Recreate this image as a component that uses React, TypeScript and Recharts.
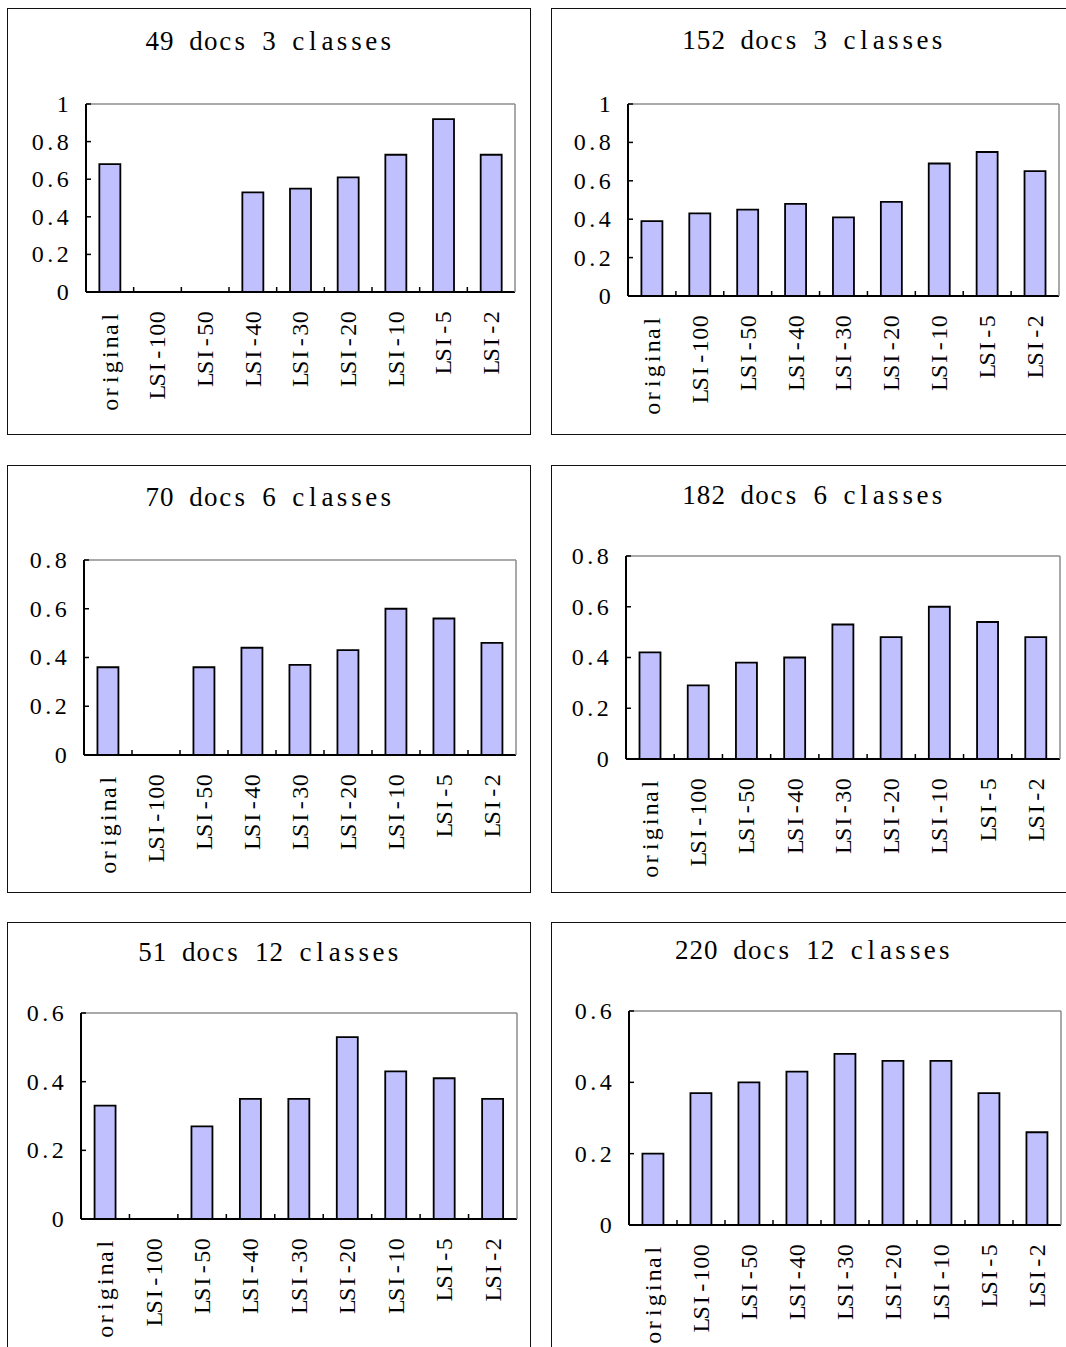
import { BarChart, Bar, XAxis, YAxis } from 'recharts';

const categories = ['original', 'LSI-100', 'LSI-50', 'LSI-40', 'LSI-30', 'LSI-20', 'LSI-10', 'LSI-5', 'LSI-2'];

const docs49Classes3 = [0.68, 0, 0, 0.53, 0.55, 0.61, 0.73, 0.92, 0.73];
const docs152Classes3 = [0.39, 0.43, 0.45, 0.48, 0.41, 0.49, 0.69, 0.75, 0.65];
const docs70Classes6 = [0.36, 0, 0.36, 0.44, 0.37, 0.43, 0.6, 0.56, 0.46];
const docs182Classes6 = [0.42, 0.29, 0.38, 0.4, 0.53, 0.48, 0.6, 0.54, 0.48];
const docs51Classes12 = [0.33, 0, 0.27, 0.35, 0.35, 0.53, 0.43, 0.41, 0.35];
const docs220Classes12 = [0.2, 0.37, 0.4, 0.43, 0.48, 0.46, 0.46, 0.37, 0.26];

const ticksTo1 = [0, 0.2, 0.4, 0.6, 0.8, 1];
const ticksTo08 = [0, 0.2, 0.4, 0.6, 0.8];
const ticksTo06 = [0, 0.2, 0.4, 0.6];

// serif glyphs on a fixed half-width grid, like the SimSun look of the original
const FONT = "'Liberation Serif', 'DejaVu Serif', serif";
const LABEL_SIZE = 24;
const LABEL_ADV = 12.5;
const TITLE_SIZE = 27;
const TITLE_ADV = 14.6;
const BOX_W = 524;
const AXIS = 1;

const panels = [
  { title: '49 docs 3 classes', values: docs49Classes3, ticks: ticksTo1, box: { left: 7, top: 8, h: 427 }, titleY: 41, plot: { left: 86, top: 104, right: 515, bottom: 292 } },
  { title: '152 docs 3 classes', values: docs152Classes3, ticks: ticksTo1, box: { left: 551, top: 8, h: 427 }, titleY: 40, plot: { left: 628, top: 104, right: 1059, bottom: 296 } },
  { title: '70 docs 6 classes', values: docs70Classes6, ticks: ticksTo08, box: { left: 7, top: 465, h: 428 }, titleY: 497, plot: { left: 84, top: 560, right: 516, bottom: 755 } },
  { title: '182 docs 6 classes', values: docs182Classes6, ticks: ticksTo08, box: { left: 551, top: 465, h: 428 }, titleY: 495, plot: { left: 626, top: 556, right: 1060, bottom: 759 } },
  { title: '51 docs 12 classes', values: docs51Classes12, ticks: ticksTo06, box: { left: 7, top: 922, h: 440 }, titleY: 952, plot: { left: 81, top: 1013, right: 517, bottom: 1219 } },
  { title: '220 docs 12 classes', values: docs220Classes12, ticks: ticksTo06, box: { left: 551, top: 922, h: 440 }, titleY: 950, plot: { left: 629, top: 1011, right: 1061, bottom: 1225 } },
];

// x centres for each character so that the string ends at endX
function slotCentres(s: string, endX: number, adv: number) {
  const n = s.length;
  return Array.from(s, (_, i) => (endX - (n - i - 0.5) * adv).toFixed(2)).join(' ');
}

function CategoryTick(props: any) {
  const { x, y, payload, width, visibleTicksCount, index } = props;
  const band = width / visibleTicksCount;
  const bx = x - band / 2;
  const ly = y + 19;
  const s = String(payload.value);
  return (
    <g>
      {index > 0 && <line x1={bx} x2={bx} y1={y} y2={y - 5} stroke="#000" strokeWidth={1.5} />}
      <text
        x={slotCentres(s, x, LABEL_ADV)}
        y={ly}
        dy="0.33em"
        transform={`rotate(-90, ${x}, ${ly})`}
        textAnchor="middle"
        fill="#000"
        fontSize={LABEL_SIZE}
        fontFamily={FONT}
      >
        {s}
      </text>
    </g>
  );
}

function ValueTick(props: any) {
  const { x, y, payload } = props;
  const s = String(payload.value);
  return (
    <text
      x={slotCentres(s, x, LABEL_ADV)}
      y={y}
      dy="0.33em"
      textAnchor="middle"
      fill="#000"
      fontSize={LABEL_SIZE}
      fontFamily={FONT}
    >
      {s}
    </text>
  );
}

function Title({ text, left, centerY }: { text: string; left: number; centerY: number }) {
  return (
    <div
      style={{
        position: 'absolute',
        left,
        top: centerY - 17,
        width: BOX_W,
        height: 34,
        display: 'flex',
        justifyContent: 'center',
        alignItems: 'center',
        fontFamily: FONT,
        fontSize: TITLE_SIZE,
        color: '#000',
        lineHeight: '34px',
      }}
    >
      {Array.from(text).map((c, i) => (
        <span key={i} style={{ display: 'inline-block', width: TITLE_ADV, textAlign: 'center' }}>
          {c === ' ' ? '\u00a0' : c}
        </span>
      ))}
    </div>
  );
}

function Panel({ p }: { p: (typeof panels)[number] }) {
  const data = categories.map((name, i) => ({ name, value: p.values[i] }));
  const chartH = p.box.h + 20;
  const margin = {
    left: p.plot.left - p.box.left - AXIS,
    top: p.plot.top - p.box.top - AXIS,
    right: p.box.left + BOX_W - p.plot.right - AXIS,
    bottom: chartH - (p.plot.bottom - p.box.top) - AXIS,
  };
  const max = p.ticks[p.ticks.length - 1];
  return (
    <>
      <div
        style={{
          position: 'absolute',
          left: p.box.left,
          top: p.box.top,
          width: BOX_W,
          height: p.box.h,
          border: '1px solid #111',
          boxSizing: 'border-box',
        }}
      />
      <Title text={p.title} left={p.box.left} centerY={p.titleY} />
      <div style={{ position: 'absolute', left: p.box.left, top: p.box.top }}>
        <BarChart width={BOX_W} height={chartH} data={data} margin={margin} barCategoryGap="28%">
          <XAxis
            dataKey="name"
            interval={0}
            height={AXIS}
            tickLine={false}
            tickSize={0}
            tickMargin={0}
            axisLine={{ stroke: '#000', strokeWidth: 2 }}
            tick={<CategoryTick />}
          />
          <XAxis
            xAxisId="top"
            orientation="top"
            dataKey="name"
            height={AXIS}
            tick={false}
            tickLine={false}
            axisLine={{ stroke: '#8c8c8c', strokeWidth: 1.5 }}
          />
          <YAxis
            type="number"
            domain={[0, max]}
            ticks={p.ticks}
            width={AXIS}
            tickSize={-5}
            tickMargin={22}
            tickLine={{ stroke: '#000', strokeWidth: 1.5 }}
            axisLine={{ stroke: '#000', strokeWidth: 2 }}
            tick={<ValueTick />}
          />
          <YAxis
            yAxisId="right"
            orientation="right"
            type="number"
            domain={[0, max]}
            width={AXIS}
            tick={false}
            tickLine={false}
            axisLine={{ stroke: '#8c8c8c', strokeWidth: 1.5 }}
          />
          <Bar dataKey="value" fill="#C0C0FF" stroke="#000" strokeWidth={1.8} isAnimationActive={false} />
        </BarChart>
      </div>
    </>
  );
}

export default function App() {
  return (
    <div
      style={{
        position: 'absolute',
        left: 0,
        top: 0,
        width: 1066,
        height: 1347,
        overflow: 'hidden',
        background: '#fff',
      }}
    >
      {panels.map((p) => (
        <Panel key={p.title} p={p} />
      ))}
    </div>
  );
}
